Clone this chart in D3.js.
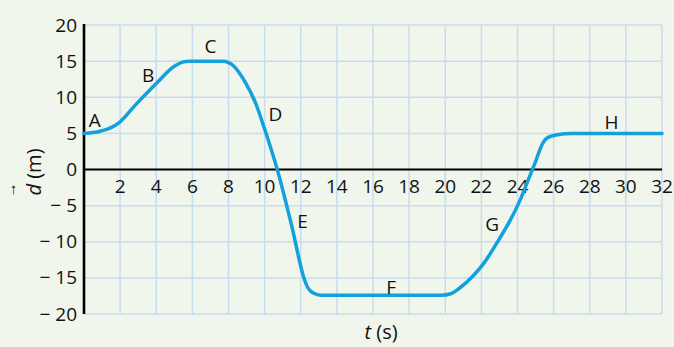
<!DOCTYPE html>
<html>
<head>
<meta charset="utf-8">
<script src="https://cdn.jsdelivr.net/npm/d3@7"></script>
<style>
  html, body { margin: 0; padding: 0; background: #f1f6ec; }
  svg { display: block; font-family: "Open Sans", "Noto Sans", sans-serif; }
</style>
</head>
<body>
<div id="chart"></div>
<script>
// values
var times = [0, 0.9, 1.5, 1.95, 2.8, 4, 5, 5.5, 5.8, 7.7, 8.3, 8.9, 9.5, 10, 10.7, 11.5, 12.2, 12.4, 12.7, 13.1,
             19.8, 20.3, 20.8, 21.55, 22.1, 22.85, 23.6, 24.15, 24.6, 25.0, 25.35, 25.6, 26.2, 27, 32];
var displacement = [5, 5.3, 5.8, 6.5, 8.8, 11.9, 14.3, 14.9, 15, 15, 14.3, 12.2, 9.2, 5.6, 0, -7.8, -15.2, -16.4, -17.1, -17.4,
                    -17.4, -17.2, -16.4, -14.7, -13.1, -10.2, -7.0, -4.2, -1.4, 1.1, 3.4, 4.3, 4.8, 5, 5];
var segmentNames = ["A", "B", "C", "D", "E", "F", "G", "H"];
var segmentT = [0.6, 3.55, 7.0, 10.6, 12.1, 17.0, 22.6, 29.2];
var segmentD = [6.8, 13.1, 17.1, 7.7, -7.1, -16.2, -7.6, 6.6];
var xTicks = [2, 4, 6, 8, 10, 12, 14, 16, 18, 20, 22, 24, 26, 28, 30, 32];
var yTicks = [20, 15, 10, 5, 0, -5, -10, -15, -20];

var width = 674, height = 347;

var svg = d3.select("#chart").append("svg")
    .attr("width", width)
    .attr("height", height);

svg.append("rect")
    .attr("width", width)
    .attr("height", height)
    .attr("fill", "#f1f6ec");

var x = d3.scaleLinear().domain([0, 32]).range([84, 662]);
var y = d3.scaleLinear().domain([-20, 20]).range([314, 25]);

// grid
var grid = svg.append("g");
grid.selectAll("line.v")
    .data(xTicks)
    .enter().append("line")
    .attr("class", "v")
    .attr("x1", d => x(d)).attr("x2", d => x(d))
    .attr("y1", y(20)).attr("y2", y(-20))
    .attr("stroke", "#c6dcf0")
    .attr("stroke-width", 1.5);
grid.selectAll("line.h")
    .data(yTicks)
    .enter().append("line")
    .attr("class", "h")
    .attr("x1", x(0)).attr("x2", x(32))
    .attr("y1", d => y(d)).attr("y2", d => y(d))
    .attr("stroke", "#c6dcf0")
    .attr("stroke-width", 1.5);

// axes
svg.append("line")
    .attr("x1", x(0)).attr("x2", x(32))
    .attr("y1", y(0)).attr("y2", y(0))
    .attr("stroke", "#000")
    .attr("stroke-width", 2.2);
svg.append("line")
    .attr("x1", x(0)).attr("x2", x(0))
    .attr("y1", y(20) - 1).attr("y2", y(-20))
    .attr("stroke", "#000")
    .attr("stroke-width", 2.6);

svg.append("g").selectAll("text")
    .data(xTicks)
    .enter().append("text")
    .attr("x", d => x(d))
    .attr("y", y(0) + 23)
    .attr("text-anchor", "middle")
    .attr("font-size", 19)
    .attr("fill", "#111")
    .text(d => d);

svg.append("g").selectAll("text")
    .data(yTicks)
    .enter().append("text")
    .attr("x", x(0) - 7)
    .attr("y", d => y(d) + 6.5)
    .attr("text-anchor", "end")
    .attr("font-size", 19)
    .attr("fill", "#111")
    .text(d => d < 0 ? "\u2212 " + Math.abs(d) : d);

// curve
var line = d3.line()
    .x((d, i) => x(times[i]))
    .y(d => y(d))
    .curve(d3.curveMonotoneX);

svg.append("path")
    .datum(displacement)
    .attr("d", line)
    .attr("fill", "none")
    .attr("stroke", "#12a1dd")
    .attr("stroke-width", 3.5)
    .attr("stroke-linejoin", "round")
    .attr("stroke-linecap", "round");

// segment letters
svg.append("g").selectAll("text")
    .data(segmentNames)
    .enter().append("text")
    .attr("x", (d, i) => x(segmentT[i]))
    .attr("y", (d, i) => y(segmentD[i]) + 7)
    .attr("text-anchor", "middle")
    .attr("font-size", 19)
    .attr("fill", "#111")
    .text(d => d);

// axis titles
var xt = svg.append("text")
    .attr("x", 381)
    .attr("y", 339)
    .attr("text-anchor", "middle")
    .attr("font-size", 20)
    .attr("fill", "#111");
xt.append("tspan").attr("font-style", "italic").text("t");
xt.append("tspan").text(" (s)");

var yl = svg.append("g").attr("transform", "translate(41,172) rotate(-90)");
var yt = yl.append("text")
    .attr("text-anchor", "middle")
    .attr("font-size", 20)
    .attr("fill", "#111");
yt.append("tspan").attr("font-style", "italic").text("d");
yt.append("tspan").text(" (m)");
// vector arrow over d
yl.append("text")
    .attr("x", -18)
    .attr("y", -25)
    .attr("text-anchor", "middle")
    .attr("font-size", 15)
    .attr("fill", "#111")
    .text("\u2192");
</script>
</body>
</html>
